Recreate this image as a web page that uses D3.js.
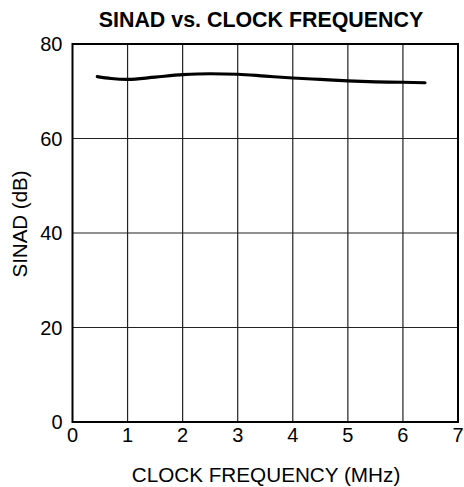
<!DOCTYPE html>
<html>
<head>
<meta charset="utf-8">
<script src="https://cdn.jsdelivr.net/npm/d3@7"></script>
<style>
  html, body { margin: 0; padding: 0; background: #fff; }
  svg { display: block; font-family: "Liberation Sans", Arial, sans-serif; }
</style>
</head>
<body>
<div id="chart"></div>
<script>
// SINAD vs clock frequency
const freqMHz = [0.45, 0.7, 1.0, 1.5, 2.0, 2.5, 3.0, 3.5, 4.0, 4.5, 5.0, 5.5, 6.0, 6.4];
const sinadDb = [73.1, 72.7, 72.5, 73.0, 73.5, 73.7, 73.6, 73.2, 72.8, 72.5, 72.2, 72.0, 71.9, 71.8];
const xTicks = [0, 1, 2, 3, 4, 5, 6, 7];
const yTicks = [0, 20, 40, 60, 80];

const width = 464, height = 487;
const m = { left: 72.5, right: 6, top: 44, bottom: 65 };

const svg = d3.select("#chart").append("svg")
  .attr("width", width).attr("height", height);

const x = d3.scaleLinear().domain([0, 7]).range([m.left, width - m.right]);
const y = d3.scaleLinear().domain([0, 80]).range([height - m.bottom, m.top]);

// grid
svg.append("g")
  .selectAll("line.vx")
  .data(xTicks.slice(1, -1))
  .join("line")
  .attr("x1", d => x(d)).attr("x2", d => x(d))
  .attr("y1", y(0)).attr("y2", y(80))
  .attr("stroke", "#222").attr("stroke-width", 1.2);

svg.append("g")
  .selectAll("line.hy")
  .data(yTicks.slice(1, -1))
  .join("line")
  .attr("x1", x(0)).attr("x2", x(7))
  .attr("y1", d => y(d)).attr("y2", d => y(d))
  .attr("stroke", "#222").attr("stroke-width", 1.2);

// frame
svg.append("rect")
  .attr("x", x(0)).attr("y", y(80))
  .attr("width", x(7) - x(0)).attr("height", y(0) - y(80))
  .attr("fill", "none").attr("stroke", "#000").attr("stroke-width", 2);

// tick labels
svg.append("g")
  .selectAll("text")
  .data(xTicks)
  .join("text")
  .attr("x", d => x(d)).attr("y", y(0) + 20)
  .attr("text-anchor", "middle")
  .attr("font-size", 20)
  .text(d => d);

svg.append("g")
  .selectAll("text")
  .data(yTicks)
  .join("text")
  .attr("x", x(0) - 10).attr("y", d => y(d) + 7)
  .attr("text-anchor", "end")
  .attr("font-size", 20)
  .text(d => d);

// curve
const line = d3.line()
  .x((d, i) => x(freqMHz[i]))
  .y(d => y(d))
  .curve(d3.curveMonotoneX);

svg.append("path")
  .datum(sinadDb)
  .attr("d", line)
  .attr("fill", "none")
  .attr("stroke", "#000")
  .attr("stroke-width", 3.2)
  .attr("stroke-linecap", "round");

// titles
svg.append("text")
  .attr("x", 261).attr("y", 27)
  .attr("text-anchor", "middle")
  .attr("font-size", 21.4).attr("font-weight", "bold")
  .text("SINAD vs. CLOCK FREQUENCY");

svg.append("text")
  .attr("x", 266).attr("y", 482)
  .attr("text-anchor", "middle")
  .attr("font-size", 20.7)
  .text("CLOCK FREQUENCY (MHz)");

svg.append("text")
  .attr("transform", `translate(26.5, ${y(40) - 9}) rotate(-90)`)
  .attr("text-anchor", "middle")
  .attr("font-size", 20.5)
  .text("SINAD (dB)");
</script>
</body>
</html>
